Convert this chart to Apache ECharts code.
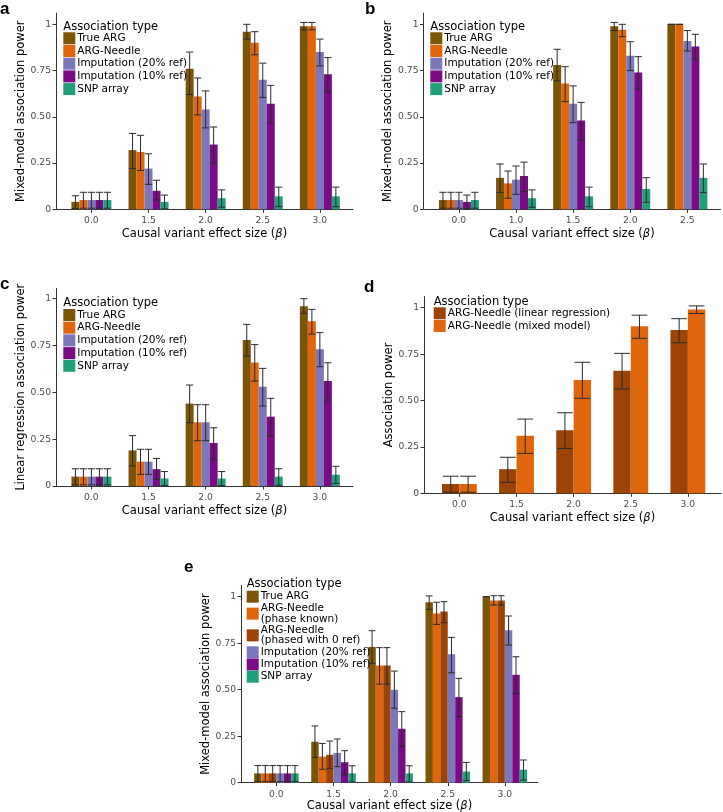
<!DOCTYPE html>
<html><head><meta charset="utf-8">
<script src="https://cdn.jsdelivr.net/npm/echarts@6/dist/echarts.min.js"></script>
<style>html,body{margin:0;padding:0;background:#fff}#c{width:723px;height:812px}</style>
</head><body><div id="c"></div>
<script>
// ---------- categories & ticks ----------
const catsMain = ['0.0','1.5','2.0','2.5','3.0'];
const catsB = ['0.0','1.0','1.5','2.0','2.5'];
const yTickValues = [0, 0.25, 0.5, 0.75, 1];
const yTickLabels = ['0', '0.25', '0.50', '0.75', '1'];

// ---------- data: each entry = [power, lower CI, upper CI] ----------
// Panel a (mixed model)
const a_trueARG = [[0.04,0.004,0.073],[0.32,0.22,0.41],[0.76,0.62,0.85],[0.96,0.92,1.0],[0.99,0.97,1.01]];
const a_needle  = [[0.05,0.006,0.092],[0.31,0.21,0.40],[0.61,0.51,0.71],[0.90,0.835,0.96],[0.99,0.97,1.01]];
const a_imp20   = [[0.05,0.006,0.092],[0.22,0.135,0.30],[0.54,0.44,0.64],[0.70,0.605,0.79],[0.85,0.775,0.92]];
const a_imp10   = [[0.05,0.006,0.092],[0.10,0.05,0.157],[0.35,0.25,0.445],[0.57,0.465,0.67],[0.73,0.636,0.82]];
const a_snp     = [[0.05,0.006,0.092],[0.04,0.002,0.077],[0.06,0.011,0.105],[0.07,0.014,0.12],[0.07,0.014,0.12]];
// Panel b (mixed model, other effect sizes)
const b_trueARG = [[0.05,0.006,0.092],[0.17,0.09,0.245],[0.78,0.694,0.865],[0.99,0.966,1.01],[1.0,1.0,1.0]];
const b_needle  = [[0.05,0.006,0.092],[0.14,0.06,0.207],[0.68,0.582,0.771],[0.97,0.933,1.0],[1.0,1.0,1.0]];
const b_imp20   = [[0.05,0.006,0.092],[0.16,0.081,0.234],[0.57,0.468,0.667],[0.83,0.75,0.906],[0.91,0.856,0.966]];
const b_imp10   = [[0.04,0.004,0.077],[0.18,0.095,0.255],[0.48,0.375,0.578],[0.74,0.649,0.825],[0.88,0.811,0.946]];
const b_snp     = [[0.05,0.006,0.092],[0.06,0.011,0.105],[0.07,0.014,0.12],[0.11,0.038,0.171],[0.17,0.09,0.245]];
// Panel c (linear regression)
const c_trueARG = [[0.05,0.006,0.092],[0.19,0.107,0.269],[0.44,0.338,0.539],[0.78,0.694,0.863],[0.96,0.922,1.0]];
const c_needle  = [[0.05,0.006,0.092],[0.13,0.062,0.196],[0.34,0.242,0.434],[0.66,0.56,0.755],[0.88,0.811,0.943]];
const c_imp20   = [[0.05,0.006,0.092],[0.13,0.062,0.196],[0.34,0.242,0.434],[0.53,0.427,0.628],[0.73,0.637,0.819]];
const c_imp10   = [[0.05,0.006,0.092],[0.09,0.036,0.147],[0.23,0.142,0.311],[0.37,0.267,0.468],[0.56,0.459,0.658]];
const c_snp     = [[0.05,0.006,0.092],[0.04,0.002,0.077],[0.04,0.002,0.077],[0.05,0.004,0.092],[0.06,0.014,0.105]];
// Panel d (ARG-Needle linear vs mixed)
const d_linear  = [[0.05,0.006,0.092],[0.13,0.059,0.194],[0.34,0.242,0.434],[0.66,0.562,0.754],[0.88,0.811,0.941]];
const d_mixed   = [[0.05,0.006,0.092],[0.31,0.215,0.40],[0.61,0.512,0.706],[0.90,0.835,0.96],[0.99,0.969,1.01]];
// Panel e (phasing)
const e_trueARG = [[0.05,0.006,0.092],[0.22,0.136,0.305],[0.73,0.642,0.817],[0.97,0.932,1.004],[1.0,1.0,1.0]];
const e_known   = [[0.05,0.006,0.092],[0.14,0.072,0.211],[0.63,0.53,0.726],[0.91,0.851,0.97],[0.98,0.955,1.005]];
const e_phased0 = [[0.05,0.006,0.092],[0.15,0.077,0.224],[0.63,0.53,0.726],[0.92,0.86,0.973],[0.98,0.955,1.005]];
const e_imp20   = [[0.05,0.006,0.092],[0.16,0.086,0.235],[0.50,0.40,0.60],[0.69,0.591,0.781],[0.82,0.74,0.896]];
const e_imp10   = [[0.05,0.006,0.092],[0.11,0.041,0.172],[0.29,0.194,0.382],[0.46,0.355,0.561],[0.58,0.48,0.677]];
const e_snp     = [[0.05,0.006,0.092],[0.05,0.004,0.091],[0.05,0.004,0.091],[0.06,0.011,0.109],[0.07,0.014,0.122]];

// ---------- styling ----------
const FONT = 'DejaVu Sans';
const COL = {
  trueARG: '#7d5507', needle: '#df660c', imp20: '#7b77ba', imp10: '#7b0a85',
  snp: '#22a07b', linear: '#9c4307'
};
const NAMES = {
  trueARG: 'True ARG', needle: 'ARG-Needle', imp20: 'Imputation (20% ref)',
  imp10: 'Imputation (10% ref)', snp: 'SNP array',
  linear: 'ARG-Needle (linear regression)', mixed: 'ARG-Needle (mixed model)',
  known: 'ARG-Needle\n(phase known)', phased0: 'ARG-Needle\n(phased with 0 ref)'
};

// panel geometry
const panels = [
  {left: 56,    top: 13.2,  width: 297, height: 196.1, ymax: 1.06,  cats: catsMain, yname: 'Mixed-model association power', frac: 0.70, xgap: 19},
  {left: 423.5, top: 13.2,  width: 297, height: 196.1, ymax: 1.06,  cats: catsB,    yname: 'Mixed-model association power', frac: 0.70, xgap: 19},
  {left: 56,    top: 288.4, width: 297, height: 197.6, ymax: 1.055, cats: catsMain, yname: 'Linear regression association power', frac: 0.70, xgap: 19},
  {left: 424,   top: 296.6, width: 297, height: 196.7, ymax: 1.06,  cats: catsMain, yname: 'Association power', frac: 0.61, xgap: 19},
  {left: 241,   top: 585.5, width: 297, height: 197.2, ymax: 1.06,  cats: catsMain, yname: 'Mixed-model association power', frac: 0.78, xgap: 17}
];

function renderBar(k, n, frac) {
  return function (params, api) {
    const x = api.value(0), v = api.value(1), lo = api.value(2), hi = api.value(3);
    const band = api.size([1, 0])[0];
    const bw = band * frac / n;
    const base = api.coord([x, 0]);
    const cx = base[0] + (k - (n - 1) / 2) * bw;
    const top = api.coord([x, v])[1];
    const yLo = api.coord([x, lo])[1], yHi = api.coord([x, hi])[1];
    const cap = bw * 0.45;
    const ls = {stroke: '#2a2a2a', lineWidth: 1};
    return {type: 'group', children: [
      {type: 'rect', shape: {x: cx - bw / 2, y: top, width: bw, height: base[1] - top}, style: {fill: api.visual('color')}},
      {type: 'line', shape: {x1: cx, y1: yLo, x2: cx, y2: yHi}, style: ls},
      {type: 'line', shape: {x1: cx - cap, y1: yHi, x2: cx + cap, y2: yHi}, style: ls},
      {type: 'line', shape: {x1: cx - cap, y1: yLo, x2: cx + cap, y2: yLo}, style: ls}
    ]};
  };
}

const panelSeries = [
  [['trueARG', a_trueARG], ['needle', a_needle], ['imp20', a_imp20], ['imp10', a_imp10], ['snp', a_snp]],
  [['trueARG', b_trueARG], ['needle', b_needle], ['imp20', b_imp20], ['imp10', b_imp10], ['snp', b_snp]],
  [['trueARG', c_trueARG], ['needle', c_needle], ['imp20', c_imp20], ['imp10', c_imp10], ['snp', c_snp]],
  [['linear', d_linear], ['mixed', d_mixed]],
  [['trueARG', e_trueARG], ['known', e_known], ['phased0', e_phased0], ['imp20', e_imp20], ['imp10', e_imp10], ['snp', e_snp]]
];
const colorOf = {trueARG: COL.trueARG, needle: COL.needle, imp20: COL.imp20, imp10: COL.imp10, snp: COL.snp,
  linear: COL.linear, mixed: COL.needle, known: COL.needle, phased0: COL.linear};

const grids = [], xAxes = [], yAxes = [], series = [], legends = [], titles = [];
const legendPos = [
  {left: 63.3, top: 32.3, title: 19.7, gap: 0.7},
  {left: 430.3, top: 32.3, title: 19.7, gap: 0.7},
  {left: 63.3, top: 309, title: 296.3, gap: 0.7},
  {left: 433.7, top: 307.3, title: 294.7, gap: 0.7},
  {left: 246.7, top: 590.7, title: 577.3, gap: 0.2}
];
const letters = [
  {t: 'a', left: 0, top: 0.5}, {t: 'b', left: 365, top: 0.5}, {t: 'c', left: 0, top: 275.5},
  {t: 'd', left: 364, top: 278.5}, {t: 'e', left: 184, top: 558.5}
];

panels.forEach((p, gi) => {
  grids.push({left: p.left, top: p.top, width: p.width, height: p.height, containLabel: false, outerBoundsMode: 'none'});
  const cats = p.cats;
  xAxes.push({
    gridIndex: gi, type: 'value', min: -0.62, max: 4.58,
    axisLine: {show: true, onZero: false, lineStyle: {color: '#333', width: 1}},
    axisTick: {show: true, length: 3.5, customValues: [0, 1, 2, 3, 4], lineStyle: {color: '#333'}},
    axisLabel: {customValues: [0, 1, 2, 3, 4], formatter: v => cats[Math.round(v)], fontSize: 9.2, color: '#4d4d4d', margin: 7, fontFamily: FONT},
    splitLine: {show: false},
    name: 'Causal variant effect size ({i|β})', nameLocation: 'middle', nameGap: p.xgap,
    nameTextStyle: {fontSize: 11.5, color: '#000', fontFamily: FONT,
      rich: {i: {fontStyle: 'italic', fontSize: 11.5, color: '#000', fontFamily: FONT}}}
  });
  yAxes.push({
    gridIndex: gi, type: 'value', min: 0, max: p.ymax,
    axisLine: {show: true, onZero: false, lineStyle: {color: '#333', width: 1}},
    axisTick: {show: true, length: 3.5, customValues: yTickValues, lineStyle: {color: '#333'}},
    axisLabel: {customValues: yTickValues, fontSize: 9.2, color: '#4d4d4d', margin: 5, fontFamily: FONT,
      formatter: v => { const i = yTickValues.findIndex(t => Math.abs(t - v) < 1e-9); return i >= 0 ? yTickLabels[i] : ''; }},
    splitLine: {show: false},
    name: p.yname, nameLocation: 'middle', nameGap: 26,
    nameTextStyle: {fontSize: 11.5, color: '#000', fontFamily: FONT}
  });
  const list = panelSeries[gi];
  list.forEach(([key, data], k) => {
    series.push({
      type: 'custom', name: NAMES[key], xAxisIndex: gi, yAxisIndex: gi,
      itemStyle: {color: colorOf[key]},
      renderItem: renderBar(k, list.length, p.frac),
      encode: {x: 0, y: 1},
      data: data.map((d, i) => [i, d[0], d[1], d[2]]),
      silent: true, animation: false
    });
  });
  const lp = legendPos[gi];
  legends.push({
    orient: 'vertical', left: lp.left, top: lp.top, padding: 0,
    itemWidth: 12, itemHeight: 12, itemGap: lp.gap, icon: 'rect', selectedMode: false,
    data: list.map(([key]) => NAMES[key]),
    textStyle: {fontSize: 10.5, color: '#000', fontFamily: FONT, lineHeight: 10.5, padding: [0, 0, 0, -3]}
  });
  titles.push({text: 'Association type', left: lp.left, top: lp.title, padding: 0,
    textStyle: {fontSize: 11.5, fontWeight: 'normal', color: '#000', fontFamily: FONT, lineHeight: 14}});
});
letters.forEach(l => titles.push({text: l.t, left: l.left, top: l.top, padding: 0,
  textStyle: {fontSize: 17, fontWeight: 'bold', color: '#000', fontFamily: 'Liberation Sans', lineHeight: 17}}));

const chart = echarts.init(document.getElementById('c'), null, {renderer: 'canvas'});
chart.setOption({
  animation: false, backgroundColor: '#fff',
  title: titles, legend: legends, grid: grids, xAxis: xAxes, yAxis: yAxes, series: series
});
</script></body></html>
